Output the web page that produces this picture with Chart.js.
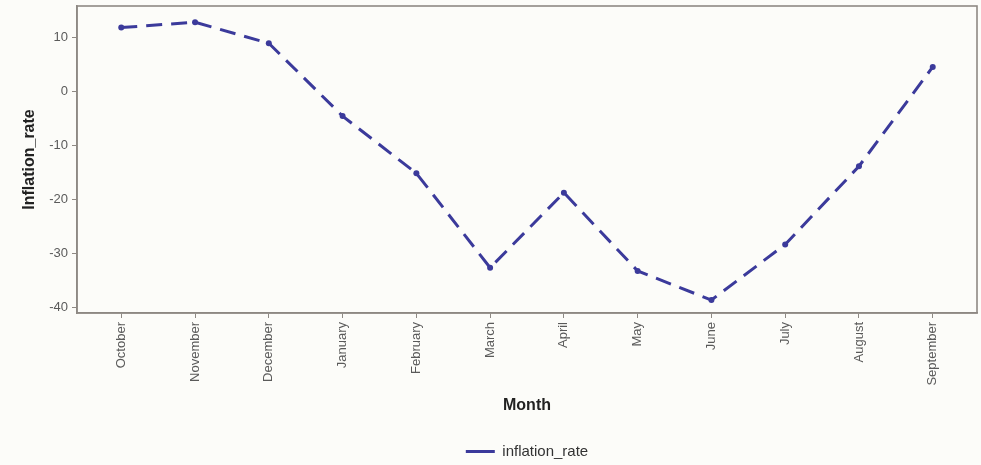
<!DOCTYPE html>
<html>
<head>
<meta charset="utf-8">
<script src="https://cdn.jsdelivr.net/npm/chart.js@4/dist/chart.umd.min.js"></script>
<style>
  html, body { margin: 0; padding: 0; background: #fcfcf9; }
  #wrap { width: 981px; height: 465px; position: relative; }
</style>
</head>
<body>
<div id="wrap"><canvas id="c" width="981" height="465"></canvas></div>
<script>
const months = ["October","November","December","January","February","March","April","May","June","July","August","September"];
const inflationRate = [11.8, 12.8, 8.9, -4.6, -15.2, -32.7, -18.8, -33.3, -38.7, -28.4, -13.9, 4.5];
const yTicks = [10, 0, -10, -20, -30, -40];

const lineColor = "#3b3a9b";
const frameColor = "#8e8984";
const textColor = "#5a5a5a";

const points = months.map((m, i) => ({ x: i, y: inflationRate[i] }));

const bgPlugin = {
  id: "bg",
  afterLayout(chart) {
    if (chart.legend) { chart.legend.top += 4; chart.legend.bottom += 4; }
  },
  beforeDraw(chart) {
    const ctx = chart.ctx;
    ctx.save();
    ctx.fillStyle = "#fcfcf9";
    ctx.fillRect(0, 0, chart.width, chart.height);
    ctx.restore();
  },
  afterDatasetsDraw(chart) {
    const { ctx, chartArea: a } = chart;
    ctx.save();
    ctx.strokeStyle = frameColor;
    ctx.lineWidth = 1.6;
    ctx.strokeRect(a.left, a.top, a.right - a.left, a.bottom - a.top);
    ctx.restore();
  }
};

new Chart(document.getElementById("c"), {
  type: "line",
  data: {
    datasets: [{
      label: "inflation_rate",
      data: points,
      borderColor: lineColor,
      backgroundColor: lineColor,
      borderWidth: 3,
      borderDash: [16, 9],
      pointRadius: 3,
      pointBackgroundColor: lineColor,
      pointBorderWidth: 0,
      tension: 0
    }]
  },
  options: {
    responsive: false,
    animation: false,
    devicePixelRatio: 1,
    layout: { padding: { left: 0, right: 3, top: 6, bottom: 0 } },
    plugins: {
      legend: {
        position: "bottom",
        fullSize: false,
        labels: {
          color: "#333",
          font: { family: "Liberation Sans, Arial, sans-serif", size: 15 },
          boxWidth: 29,
          boxHeight: 3,
          padding: 10,
          generateLabels(chart) {
            const ds = chart.data.datasets[0];
            return [{
              text: ds.label,
              fillStyle: lineColor,
              strokeStyle: lineColor,
              lineWidth: 0,
              lineDash: [],
              datasetIndex: 0,
              fontColor: "#333"
            }];
          }
        }
      },
      tooltip: { enabled: false }
    },
    scales: {
      x: {
        type: "linear",
        min: -0.6,
        max: 11.6,
        afterBuildTicks(scale) {
          scale.ticks = months.map((m, i) => ({ value: i }));
        },
        afterFit(scale) { scale.height = 117; },
        ticks: {
          autoSkip: false,
          maxRotation: 90,
          minRotation: 90,
          includeBounds: false,
          padding: 4,
          color: textColor,
          font: { family: "Liberation Sans, Arial, sans-serif", size: 13 },
          callback(v) { return months[v]; }
        },
        grid: { drawOnChartArea: false, drawTicks: true, tickLength: 5, color: frameColor, lineWidth: 1 },
        border: { color: frameColor, width: 1.6 },
        title: {
          display: true,
          text: "Month",
          color: "#222",
          font: { family: "Liberation Sans, Arial, sans-serif", size: 16, weight: "bold" },
          padding: { top: 0, bottom: 15 }
        }
      },
      y: {
        type: "linear",
        min: -41.1,
        max: 15.8,
        afterBuildTicks(scale) {
          scale.ticks = yTicks.map(v => ({ value: v }));
        },
        afterFit(scale) {
          scale.width = 77;
          scale.paddingTop = 0;
          scale.paddingBottom = 0;
        },
        ticks: {
          includeBounds: false,
          padding: 4,
          color: textColor,
          font: { family: "Liberation Sans, Arial, sans-serif", size: 13 }
        },
        grid: { drawOnChartArea: false, drawTicks: true, tickLength: 5, color: frameColor, lineWidth: 1 },
        border: { color: frameColor, width: 1.6 },
        title: {
          display: true,
          text: "Inflation_rate",
          color: "#222",
          font: { family: "Liberation Sans, Arial, sans-serif", size: 16, weight: "bold" },
          padding: { top: 20, bottom: 0 }
        }
      }
    }
  },
  plugins: [bgPlugin]
});
</script>
</body>
</html>
